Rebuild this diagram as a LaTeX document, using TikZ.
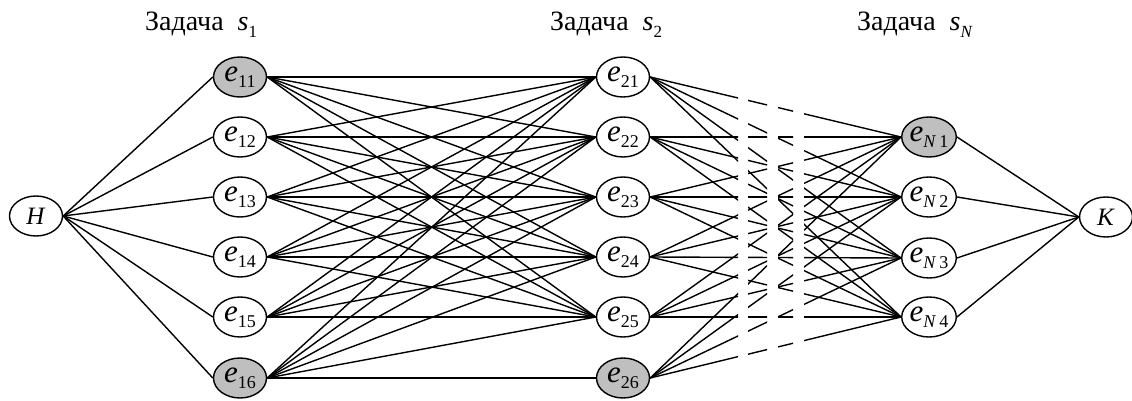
\documentclass[tikz,border=0pt]{standalone}
\usepackage{fontspec}
\setmainfont{Liberation Serif}
\usetikzlibrary{shapes.geometric}
\newcommand{\ev}[1]{\fontsize{31}{31}\selectfont\textit{e}\raisebox{-0.2em}{\fontsize{18}{18}\selectfont #1}}
\newcommand{\tit}[1]{\fontsize{28}{28}\selectfont Задача\hspace{0.5em}\textit{s}\raisebox{-0.22em}{\fontsize{17}{17}\selectfont #1}}
\tikzset{
  vtx/.style={ellipse, draw, line width=1.4pt, minimum width=53pt, minimum height=40pt, inner sep=0pt, fill=white},
  sel/.style={vtx, fill=gray!50},
  lnk/.style={line width=1.4pt},
  ttl/.style={anchor=base west, inner sep=0pt}
}
\begin{document}
\begin{tikzpicture}[x=1pt,y=-1pt]
\useasboundingbox (0,0) rectangle (1132,401);
% titles
\node[ttl] (t1) at (145,31) {\tit{1}};
\node[ttl] (t2) at (550,31) {\tit{2}};
\node[ttl] (t3) at (857,31) {\tit{\textit{N}}};
% edges
\foreach \i/\y in {1/77,2/137,3/197,4/257,5/317,6/378}{
  \ifnum\i=1 \node[sel] (a\i) at (240,\y) {\ev{1\i}};
  \else\ifnum\i=6 \node[sel] (a\i) at (240,\y) {\ev{1\i}};
  \else \node[vtx] (a\i) at (240,\y) {\ev{1\i}};\fi\fi
  \ifnum\i=6 \node[sel] (b\i) at (623,\y) {\ev{2\i}};
  \else \node[vtx] (b\i) at (623,\y) {\ev{2\i}};\fi
}
\node[vtx] (H) at (36,216) {\fontsize{25}{25}\selectfont\textit{H}};
\node[vtx] (K) at (1106,217) {\fontsize{25}{25}\selectfont\textit{K}};
\node[sel] (c1) at (929,137) {\ev{\textit{N}\,1}};
\node[vtx] (c2) at (929,197) {\ev{\textit{N}\,2}};
\node[vtx] (c3) at (929,258) {\ev{\textit{N}\,3}};
\node[vtx] (c4) at (929,317) {\ev{\textit{N}\,4}};
\foreach \i in {1,...,6}{ \draw[lnk] (H.east) -- (a\i.west); }
\foreach \i in {1,...,6}{ \foreach \j in {1,...,5}{ \draw[lnk] (a\i.east) -- (b\j.west); } }
\draw[lnk] (a6.east) -- (b6.west);
\foreach \k in {1,...,4}{ \draw[lnk] (c\k.east) -- (K.west); }
\begin{scope}
\clip (0,0) rectangle (738,401) (748,0) rectangle (767,401) (778,0) rectangle (793,401) (804,0) rectangle (1132,401);
\foreach \j in {1,...,6}{ \foreach \k in {1,...,4}{ \draw[lnk] (b\j.east) -- (c\k.west); } }
\end{scope}
\end{tikzpicture}
\end{document}
